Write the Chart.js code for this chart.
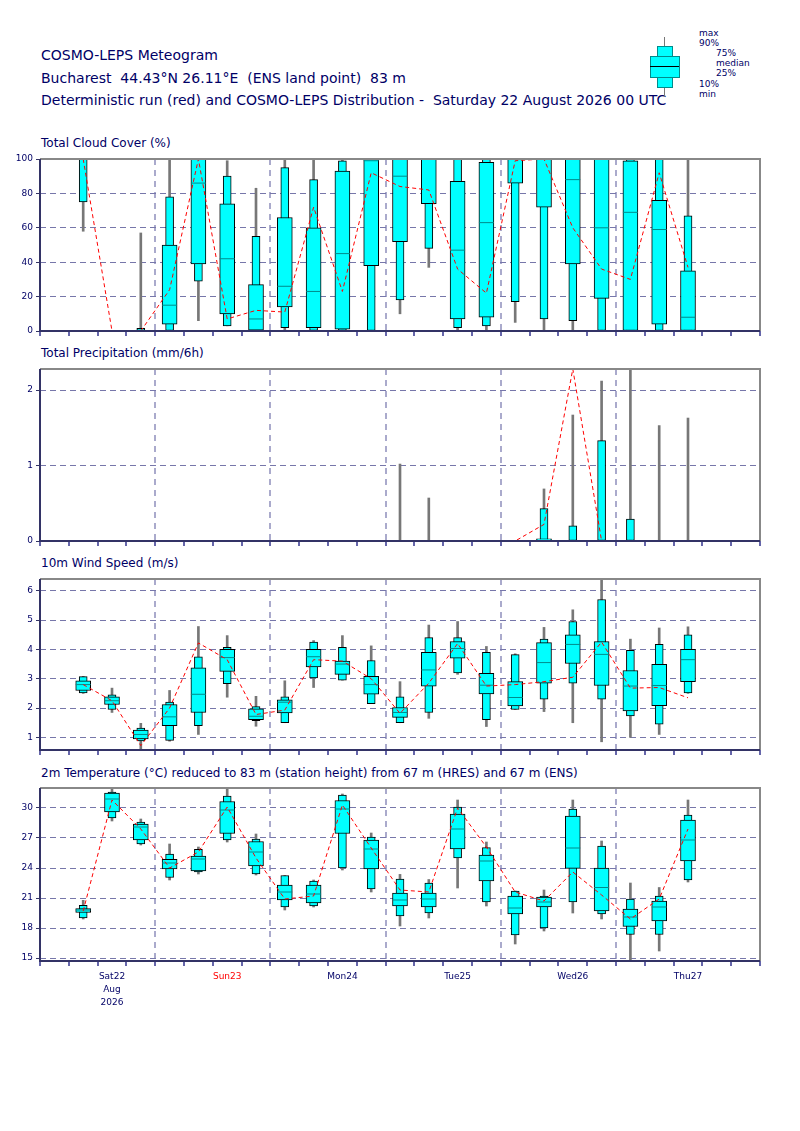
<!DOCTYPE html>
<html><head><meta charset="utf-8">
<script src="https://cdn.jsdelivr.net/npm/chart.js@4.4.1/dist/chart.umd.min.js"></script>
<style>
body{margin:0;background:#fff;font-family:"DejaVu Sans",sans-serif;color:#000066}
canvas{position:absolute;left:0}
.t{position:absolute;left:41px;font-size:14px;white-space:nowrap}
.p{position:absolute;left:41px;font-size:12px;white-space:nowrap}
.lg{position:absolute;font-size:9px;line-height:10px}
</style></head><body>
<div class="t" style="top:47px">COSMO-LEPS Meteogram</div>
<div class="t" style="top:70px">Bucharest&nbsp; 44.43°N 26.11°E&nbsp; (ENS land point)&nbsp; 83 m</div>
<div class="t" style="top:92px">Deterministic run (red) and COSMO-LEPS Distribution -&nbsp; Saturday 22 August 2026 00 UTC</div>
<canvas id="leg" width="40" height="70" style="left:645px;top:32px"></canvas>
<div class="lg" style="left:699px;top:28px">max<br>90%</div>
<div class="lg" style="left:716px;top:48px">75%<br>median<br>25%</div>
<div class="lg" style="left:699px;top:79px">10%<br>min</div>
<div class="p" style="top:136px">Total Cloud Cover (%)</div>
<div class="p" style="top:346px">Total Precipitation (mm/6h)</div>
<div class="p" style="top:556px">10m Wind Speed (m/s)</div>
<div class="p" style="top:766px">2m Temperature (°C) reduced to 83 m (station height) from 67 m (HRES) and 67 m (ENS)</div>
<canvas id="c1"></canvas><canvas id="c2"></canvas><canvas id="c3"></canvas><canvas id="c4"></canvas>
<script>
const hours = [6,12,18,24,30,36,42,48,54,60,66,72,78,84,90,96,102,108,114,120,126,132];
const dayLabels = {12:['Sat22','Aug','2026'],36:'Sun23',60:'Mon24',84:'Tue25',108:'Wed26',132:'Thu27'};

const cloudMin = [58,0,0,0,6,3,0,0,0,0,0,10,37,0,0,5,0,0,0,0,0,0];
const cloudP10 = [75,0,0,0,29,3,0,2,0,0,0,18,48,2,3,17,7,6,0,0,0,0];
const cloudP25 = [100,0,0,4,39,10,0.5,14,2,1,38,52,74,7,8,86,72,39,19,0,4,0];
const cloudMed = [100,0,0,15,86,42,7,26,23,45,99,90,100,47,63,100,100,88,60,69,59,8];
const cloudP75 = [100,0,0,50,100,74,27,66,60,93,100,100,100,87,98,100,100,100,100,99,76,35];
const cloudP90 = [100,0,1.5,78,100,90,55,95,88,99,100,100,100,100,100,100,100,100,100,100,100,67];
const cloudMax = [100,0,57,100,100,99,83,100,100,100,100,100,100,100,100,100,100,100,100,100,100,100];
const cloudDet = [100,0,0,24,100,7,12,11,72,23,92,84,82,36,22,99,100,60,36,30,92,37];

const precMin = [0,0,0,0,0,0,0,0,0,0,0,0,0,0,0,0,0,0,0,0,0,0];
const precP10 = [0,0,0,0,0,0,0,0,0,0,0,0,0,0,0,0,0,0,0,0,0,0];
const precP25 = [0,0,0,0,0,0,0,0,0,0,0,0,0,0,0,0,0,0,0,0,0,0];
const precMed = [0,0,0,0,0,0,0,0,0,0,0,0,0,0,0,0,0,0,0,0,0,0];
const precP75 = [0,0,0,0,0,0,0,0,0,0,0,0,0,0,0,0,0.03,0.01,0,0,0,0];
const precP90 = [0,0,0,0,0,0,0,0,0,0,0,0,0,0,0,0,0.43,0.2,1.33,0.29,0,0];
const precMax = [0,0,0,0,0,0,0,0,0,0,0,1.02,0.57,0,0,0,0.69,1.67,2.12,21,1.53,1.63];
const precDet = [0,0,0,0,0,0,0,0,0,0,0,0,0,0,0,0,0.22,2.28,0,0,0,0];

const windMin = [2.5,1.85,0.6,0.87,1.1,2.37,1.38,1.5,2.7,2.95,2.15,1.5,1.65,3.15,1.37,1.95,1.88,1.5,0.85,1.0,1.1,2.5];
const windP10 = [2.52,1.95,0.88,0.9,1.4,2.83,1.57,1.5,3.03,2.95,2.15,1.5,1.85,3.2,1.6,1.95,2.3,2.85,2.3,1.73,1.45,2.52];
const windP25 = [2.6,2.12,0.95,1.4,1.85,3.25,1.6,1.83,3.4,3.15,2.47,1.68,2.75,3.7,2.48,2.07,2.85,3.52,2.77,1.9,2.08,2.9];
const windMed = [2.8,2.25,1.1,1.7,2.47,3.72,1.72,2.2,3.75,3.5,2.8,1.85,3.3,4.03,2.78,2.36,3.55,4.17,3.83,2.75,2.77,3.65];
const windP75 = [2.93,2.38,1.25,2.12,3.37,4.0,1.97,2.28,4.0,3.6,3.08,2.02,3.9,4.27,3.18,2.9,4.23,4.5,4.27,3.28,3.49,4.0];
const windP90 = [3.07,2.45,1.32,2.2,3.75,4.07,2.05,2.38,4.25,4.07,3.62,2.38,4.4,4.4,3.9,3.82,4.35,4.95,5.7,3.97,4.17,4.5];
const windMax = [3.08,2.68,1.48,2.6,4.78,4.47,2.4,2.93,4.3,4.47,4.12,2.9,4.83,4.95,4.1,3.85,4.75,5.35,6.5,4.35,4.73,4.77];
const windDet = [2.8,2.25,0.72,2.0,4.22,3.65,1.78,1.93,3.65,3.6,3.0,1.82,2.85,4.2,2.75,2.8,2.9,3.05,4.25,2.68,2.7,2.35];

const tempMin = [18.9,28.7,26.3,22.8,23.4,26.6,23.3,19.8,20.1,23.8,21.6,18.2,19.0,22.0,20.2,16.4,17.7,19.5,18.9,14.5,15.7,22.6];
const tempP10 = [19.0,29.0,26.4,23.05,23.6,26.8,23.4,20.1,20.2,24.0,21.9,19.2,19.5,25.0,20.6,17.3,18.0,20.6,19.4,17.35,17.35,22.8];
const tempP25 = [19.55,29.6,26.8,23.9,23.7,27.45,24.2,20.8,20.5,27.45,23.9,20.2,20.1,25.9,22.7,19.4,20.1,23.96,19.7,18.15,18.7,24.7];
const tempMed = [19.8,30.9,28.1,24.5,24.9,29.8,25.6,21.6,21.4,29.9,25.9,20.8,20.9,27.9,24.7,20.0,20.6,26.0,22.05,19.1,20.1,26.8];
const tempP75 = [19.95,31.5,28.4,24.87,25.2,30.65,26.65,22.3,22.3,30.75,26.8,21.5,21.5,29.4,25.3,21.2,21.1,29.2,24.0,19.9,20.7,28.8];
const tempP90 = [20.27,31.58,28.6,25.4,25.87,31.2,26.9,23.25,22.7,31.3,27.1,22.9,22.5,30.1,26.04,21.7,21.2,29.9,26.2,20.9,21.2,29.3];
const tempMax = [20.77,31.9,28.9,26.4,26.1,31.9,27.4,23.25,22.8,31.4,27.5,23.36,22.85,30.8,26.6,21.7,21.8,30.8,26.7,22.5,22.05,30.8];
const tempDet = [19.7,30.8,27.9,24.0,25.6,30.1,25.0,20.9,21.2,30.3,26.0,21.8,21.6,30.0,26.1,21.6,20.7,23.6,21.3,18.9,20.9,27.9];

const navy = '#000066';
const frame = {
  id: 'frame',
  afterDatasetsDraw(chart) {
    const a = chart.chartArea, c = chart.ctx;
    c.save();
    c.strokeStyle = '#888'; c.lineWidth = 2;
    c.beginPath(); c.moveTo(a.left, a.top); c.lineTo(a.right, a.top); c.lineTo(a.right, a.bottom); c.stroke();
    c.strokeStyle = '#333366';
    c.beginPath(); c.moveTo(a.left, a.top); c.lineTo(a.left, a.bottom); c.lineTo(a.right, a.bottom); c.stroke();
    const note = chart.options.plugins.frame.note;
    if (note) {
      c.fillStyle = '#ff0000'; c.font = '9px "DejaVu Sans"'; c.textAlign = 'center';
      c.fillText(note.text, chart.scales.x.getPixelForValue(note.x), a.top - 10);
    }
    c.restore();
  }
};

function span(lo, hi) { return hours.map((h, i) => ({x: h, y: [lo[i], hi[i]]})); }

function panel(id, top, bottom, axisH, yMin, yMax, yTicks, d, showLabels, note) {
  const cv = document.getElementById(id);
  const h = bottom - top + 10 + axisH;
  cv.width = 800; cv.height = h; cv.style.top = (top - 10) + 'px';
  new Chart(cv, {
    type: 'bar',
    data: {
      datasets: [
        {type: 'line', data: hours.map((x, i) => ({x, y: d[7][i]})), borderColor: '#ff0000', borderWidth: 1,
         borderDash: [4, 3], pointRadius: 0, order: 0},
        {type: 'scatter', data: hours.map((x, i) => ({x, y: d[3][i]})), pointStyle: 'line', pointRadius: 7.5,
         borderColor: '#008b8b', borderWidth: 1, order: 1},
        {data: span(d[2], d[4]), backgroundColor: '#00ffff', borderColor: '#000', borderWidth: 1,
         borderSkipped: false, barThickness: 15, grouped: false, order: 2},
        {data: span(d[1], d[5]), backgroundColor: '#00ffff', borderColor: '#000', borderWidth: 1,
         borderSkipped: false, barThickness: 8, grouped: false, order: 3},
        {data: span(d[0], d[6]), backgroundColor: '#777', borderWidth: 0, barThickness: 2, grouped: false, order: 4}
      ]
    },
    options: {
      responsive: false, animation: false, devicePixelRatio: 1,
      layout: {padding: {top: 10, right: 40, left: 0, bottom: 0}},
      plugins: {legend: {display: false}, tooltip: {enabled: false}, frame: {note}},
      scales: {
        x: {
          type: 'linear', min: 0, max: 144,
          afterBuildTicks: s => { s.ticks = []; for (let v = 0; v <= 144; v += 6) s.ticks.push({value: v}); },
          afterFit: s => { s.height = axisH; },
          grid: {
            color: c => (c.tick && c.tick.value % 24 === 0 && c.tick.value > 0 && c.tick.value < 144) ? '#aaaacc' : 'rgba(0,0,0,0)',
            lineWidth: 2, tickLength: 5, tickColor: '#6666aa', tickWidth: 2
          },
          border: {display: false, dash: [6, 5]},
          ticks: {
            display: showLabels, autoSkip: false, maxRotation: 0, padding: 4,
            font: {size: 9, family: 'DejaVu Sans', lineHeight: 1.45},
            color: c => (c.tick && c.tick.value === 36) ? '#ff0000' : navy,
            callback: v => dayLabels[v] || ''
          }
        },
        y: {
          min: yMin, max: yMax,
          afterBuildTicks: s => { s.ticks = yTicks.map(v => ({value: v})); },
          afterFit: s => { s.width = 40; },
          grid: {color: '#7777aa', lineWidth: 1, tickLength: 4, tickColor: '#333366'},
          border: {display: false, dash: [6, 4]},
          ticks: {font: {size: 9, family: 'DejaVu Sans'}, color: navy, padding: 3}
        }
      }
    },
    plugins: [frame]
  });
}

panel('c1', 159, 331, 19, 0, 100, [0,20,40,60,80,100],
  [cloudMin, cloudP10, cloudP25, cloudMed, cloudP75, cloudP90, cloudMax, cloudDet], false);
panel('c2', 369, 541, 19, 0, 2.28, [0,1,2],
  [precMin, precP10, precP25, precMed, precP75, precP90, precMax, precDet], false, {x: 120, text: '21'});
panel('c3', 579, 750, 19, 0.57, 6.4, [1,2,3,4,5,6],
  [windMin, windP10, windP25, windMed, windP75, windP90, windMax, windDet], false);
panel('c4', 788, 961, 50, 14.7, 32, [15,18,21,24,27,30],
  [tempMin, tempP10, tempP25, tempMed, tempP75, tempP90, tempMax, tempDet], true);

// legend glyph
const g = document.getElementById('leg').getContext('2d');
g.strokeStyle = '#777'; g.lineWidth = 1;
g.beginPath(); g.moveTo(19.5, 5); g.lineTo(19.5, 65); g.stroke();
g.fillStyle = '#00ffff'; g.strokeStyle = '#008b8b';
[[12, 14, 15, 10], [5, 24, 29, 21], [12, 45, 15, 10]].forEach(r => {
  g.fillRect(r[0], r[1], r[2], r[3]); g.strokeRect(r[0] + 0.5, r[1] + 0.5, r[2], r[3]);
});
g.strokeStyle = '#000';
g.beginPath(); g.moveTo(5, 34.5); g.lineTo(34, 34.5); g.stroke();
</script>
</body></html>
